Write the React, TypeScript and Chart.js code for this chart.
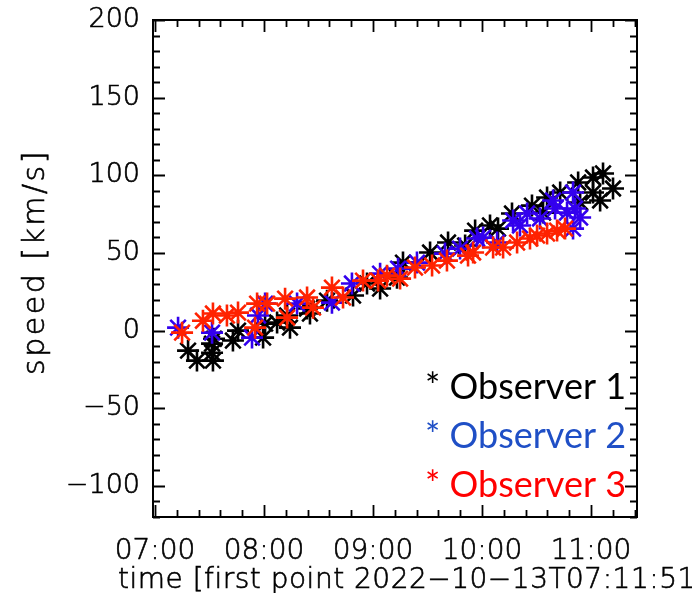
import React, { useEffect, useRef } from 'react';
import { Chart, registerables } from 'chart.js';

Chart.register(...registerables);

// minutes after 07:00
const observer1Time = [18.2, 23.1, 31.4, 31.4, 31.9, 32.5, 42.9, 45.7, 59.5, 60.6, 67.2, 72.7, 74.3, 83.7, 85.3, 94.7, 109.0, 116.7, 123.9, 133.2, 136.5, 151.4, 161.3, 170.7, 176.2, 184.4, 188.8, 196.5, 207.5, 213.6, 215.8, 223.0, 232.9, 234.0, 241.1, 241.1, 245.0, 246.6, 252.1];
const observer1Speed = [-12.9, -19.3, -8.4, -14.2, -19.3, -5.2, -6.4, 0, -4.5, 4.5, 5.2, 9.7, 1.9, 14.2, 11.0, 19.3, 22.6, 30.3, 27.1, 34.1, 43.8, 50.3, 56.7, 54.8, 64.4, 67.7, 65.7, 75.4, 80.5, 76.0, 85.7, 88.9, 95.4, 82.5, 98.6, 88.9, 83.8, 101.2, 91.5];

const observer2Time = [12.7, 31.4, 53.4, 56.7, 60.6, 78.2, 97.4, 108.4, 123.9, 133.8, 144.2, 159.6, 167.9, 177.3, 180.6, 188.3, 197.1, 200.9, 204.8, 211.9, 219.1, 220.2, 226.8, 230.1, 231.2, 234.0, 230.1];
const observer2Speed = [1.9, -1.3, -4.5, 9.7, 17.4, 17.4, 18.0, 30.3, 36.7, 39.9, 43.8, 49.6, 52.8, 59.3, 59.9, 56.7, 70.9, 67.7, 75.4, 72.2, 83.8, 78.6, 76.0, 88.9, 78.6, 72.8, 65.7];

const observer3Time = [14.9, 26.4, 31.9, 39.6, 45.7, 55.1, 56.2, 61.7, 71.6, 72.7, 83.7, 87.0, 97.4, 103.5, 114.5, 122.8, 127.7, 134.9, 143.1, 152.5, 160.7, 172.3, 175.1, 186.1, 191.6, 199.3, 206.4, 210.3, 215.8, 221.3, 225.7];
const observer3Speed = [-1.3, 6.4, 11.0, 9.7, 11.6, 1.9, 17.4, 17.4, 20.6, 8.4, 21.3, 14.8, 27.7, 21.3, 32.2, 32.2, 35.4, 33.5, 40.6, 41.9, 45.1, 48.3, 50.3, 53.5, 53.5, 56.7, 59.3, 61.2, 62.5, 64.4, 65.7];

const xTickValues = [0, 60, 120, 180, 240];
const xTickLabels = ['07:00', '08:00', '09:00', '10:00', '11:00'];
const yTickValues = [-100, -50, 0, 50, 100, 150, 200];
const yTickLabels = ['\u2212100', '\u221250', '0', '50', '100', '150', '200'];
const legendLabels = ['* Observer 1', '* Observer 2', '* Observer 3'];
const legendColors = ['#000000', '#1F4FC6', '#FF0000'];
const markerColors = ['#000000', '#3300EE', '#FF2200'];
const xTitle = 'time [first point 2022\u221210\u221213T07:11:51';
const yTitle = 'speed [km/s]';

const toPoints = (xs: number[], ys: number[]) => xs.map((v, i) => ({ x: v, y: ys[i] }));

const drawText = (ctx: any, t: string, x: number, y: number) => {
  ctx.fillText(t, x, y);
  ctx.strokeText(t, x, y);
};

const idlAxes = {
  id: 'idlAxes',
  afterDraw(chart: any) {
    const { ctx, chartArea: a, scales } = chart;
    const xs = scales.x;
    const ys = scales.y;
    ctx.save();
    ctx.strokeStyle = '#000';
    ctx.lineWidth = 2;
    ctx.strokeRect(a.left, a.top, a.right - a.left, a.bottom - a.top);
    ctx.lineWidth = 1.8;
    ctx.beginPath();
    for (let m = 0; m <= 264; m += 12) {
      const px = Math.round(xs.getPixelForValue(m)) + 0.5;
      const len = m % 60 === 0 ? 12 : 7;
      ctx.moveTo(px, a.bottom);
      ctx.lineTo(px, a.bottom - len);
      ctx.moveTo(px, a.top);
      ctx.lineTo(px, a.top + len);
    }
    for (let v = -120; v <= 200; v += 10) {
      const py = Math.round(ys.getPixelForValue(v)) + 0.5;
      const len = v % 50 === 0 ? 12 : 7;
      ctx.moveTo(a.left, py);
      ctx.lineTo(a.left + len, py);
      ctx.moveTo(a.right, py);
      ctx.lineTo(a.right - len, py);
    }
    ctx.stroke();

    ctx.fillStyle = '#000';
    ctx.strokeStyle = '#000';
    ctx.lineWidth = 0.6;
    ctx.font = "200 28px 'DejaVu Sans'";
    ctx.textAlign = 'center';
    ctx.textBaseline = 'alphabetic';
    xTickValues.forEach((v, i) => {
      drawText(ctx, xTickLabels[i], xs.getPixelForValue(v), 559);
    });
    ctx.font = "200 27px 'DejaVu Sans'";
    ctx.textAlign = 'right';
    ctx.textBaseline = 'middle';
    yTickValues.forEach((v, i) => {
      drawText(ctx, yTickLabels[i], 140, ys.getPixelForValue(v));
    });
    ctx.font = "200 28px 'DejaVu Sans'";
    ctx.textAlign = 'left';
    ctx.textBaseline = 'alphabetic';
    ctx.letterSpacing = '0.5px';
    drawText(ctx, xTitle, 118, 588);

    ctx.save();
    ctx.translate(36, 262);
    ctx.rotate(-Math.PI / 2);
    ctx.font = "200 30px 'DejaVu Sans'";
    ctx.letterSpacing = '2.5px';
    ctx.textAlign = 'center';
    ctx.textBaseline = 'middle';
    drawText(ctx, yTitle, 0, 0);
    ctx.restore();
    ctx.letterSpacing = '0px';

    ctx.font = "36px Lato";
    ctx.textAlign = 'left';
    legendLabels.forEach((t, i) => {
      ctx.fillStyle = legendColors[i];
      ctx.fillText(t, 425, 399 + i * 49);
    });
    ctx.restore();
  },
};

export default function App() {
  const ref = useRef<HTMLCanvasElement | null>(null);
  useEffect(() => {
    if (!ref.current) return;
    const mk = (i: number, xs: number[], ys: number[], order: number) => ({
      label: legendLabels[i],
      data: toPoints(xs, ys),
      pointStyle: 'star',
      pointRadius: 11,
      pointBorderWidth: 2.6,
      borderColor: markerColors[i],
      backgroundColor: markerColors[i],
      showLine: false,
      order,
    });
    const chart = new Chart(ref.current, {
      type: 'scatter',
      data: {
        datasets: [
          mk(0, observer1Time, observer1Speed, 3),
          mk(1, observer2Time, observer2Speed, 2),
          mk(2, observer3Time, observer3Speed, 1),
        ],
      },
      options: {
        responsive: false,
        animation: false,
        layout: { padding: { left: 153, top: 20, right: 55, bottom: 76 } },
        plugins: { legend: { display: false }, tooltip: { enabled: false } },
        scales: {
          x: { type: 'linear', min: -1.1, max: 265.3, display: false },
          y: { type: 'linear', min: -120, max: 200, display: false },
        },
      },
      plugins: [idlAxes],
    });
    return () => chart.destroy();
  }, []);
  return (
    <div style={{ position: 'fixed', left: 0, top: 0, width: 692, height: 593, background: '#fff' }}>
      <canvas ref={ref} width={692} height={593} />
    </div>
  );
}
